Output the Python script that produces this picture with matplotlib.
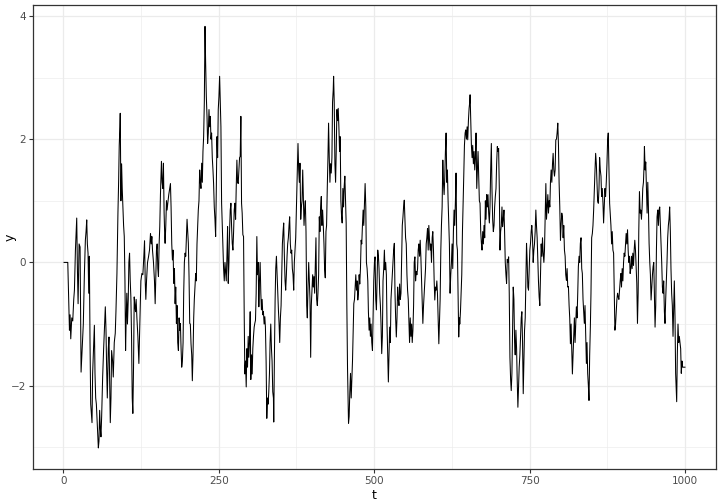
import numpy as np
import matplotlib
matplotlib.use("Agg")
import matplotlib.pyplot as plt
from matplotlib.ticker import FixedLocator

# series, in pieces along t
t_a = [1, 7, 8.6, 9.7, 10.7, 11.8, 13.4, 15, 16.6, 17.7, 19.3, 21.4, 22.5, 23.6, 25.2, 26.8, 28.4, 30,
       32, 33.7, 35.3, 36.4, 37.5, 38.5, 39.6, 40.7, 41.7, 42.8, 43.9, 45, 46, 47, 48.7, 49.8, 50.8,
       51.9, 53, 54, 55, 56.2, 57.2, 58.3, 59.4, 60.4, 61.5, 63.1, 64.7, 66.3, 67.4, 68.5, 69.5, 70.6,
       72.2, 73.3, 74.3, 75.4, 76.5, 77.5, 79.1, 80.2, 81.8, 83.4, 84.5, 86.1, 87.7, 88.8, 89.8, 90.9,
       91.4, 92.5, 93.6, 94.6, 95.7, 96.8, 97.9, 99, 100, 101, 102, 103, 104.3, 105.3, 106.4, 107.5,
       108.5, 109.6, 110.7, 111.7, 112.8, 113.9, 114.9, 116, 117]
y_a = [0, 0, -0.67, -1.1, -0.85, -1.24, -0.9, -0.95, -0.6, -0.45, 0.2, 0.72, -0.1, -0.67, 0.3, 0.25,
       -1.78, -1.43, -1.0, -0.2, 0.36, 0.5, 0.69, 0.3, 0.15, -0.5, 0.1, -1.3, -2.3, -2.45, -2.6, -1.8,
       -1.3, -1.02, -1.8, -2.2, -2.3, -2.53, -2.8, -3.01, -2.9, -2.4, -2.7, -2.83, -2.5, -1.86, -1.4,
       -1.0, -0.72, -1.1, -1.7, -2.2, -1.4, -1.21, -1.9, -2.6, -2.2, -1.43, -1.6, -1.86, -1.3, -1.15,
       -0.8, -0.18, 0.8, 1.3, 1.9, 2.2, 2.42, 1.0, 1.6, 1.2, 0.9, 0.6, 0.42, -0.3, -1.43, -0.9, -0.5,
       -1.0, -0.6, 0.0, 0.15, -0.3, -0.56, -1.2, -2.2, -2.45, -1.7, -0.56, -0.7, -0.8, -0.6]

t_b = [118.2, 119.8, 121.4, 123, 124.6, 126.2, 127.8, 129.4, 130.5, 131.6, 132.6, 133.7, 135.3, 136.9,
       138.5, 140.1, 141.2, 142.3, 143.3, 144.9, 146.5, 147.6, 148.7, 149.7, 150.8, 151.9, 152.9, 154,
       155, 156.1, 157.2, 157.7, 158.8, 159.9, 160.9, 162, 163.1, 163.6, 164.7, 165.8, 166.8, 167.9,
       169.5, 171.1, 172.2, 173.2, 174.3, 175.4, 176.4, 177.5, 178.6, 179.7, 180.7, 181.8, 182.9, 183.9,
       185, 186.1, 187.1, 188.2, 189.3, 190.3, 191.4, 192.5, 193.5, 194.6, 195.7, 196.8, 197.8, 198.9,
       200, 201, 202.1, 203.2, 204.2, 205.3, 206.4, 207.4, 208.5, 209.6, 210.6, 211.7, 212.8, 213.8,
       214.9, 216, 217, 218.1, 219.2, 220.3, 221.3, 222.4, 223.5, 224.5, 225.6, 226.7, 227.8, 228.8,
       229.9, 231, 232, 233.1, 234.2, 235.2, 236.3, 237.4, 238.4, 239.5, 240.6, 241.6, 242.7, 243.8,
       244.9, 246, 247, 248.1, 249.1, 250.2, 251.3]
y_b = [-0.9, -1.2, -1.64, -1.0, -0.3, -0.18, -0.2, 0.1, 0.35, -0.3, -0.6, -0.3, 0.0, 0.09, 0.2, 0.47,
       0.3, 0.42, 0.2, 0.0, -0.3, -0.67, -0.2, 0.2, 0.3, -0.1, -0.23, 0.3, 0.58, 1.1, 1.5, 1.64, 1.3,
       1.2, 1.61, 0.8, 0.4, 0.31, 0.6, 1.0, 0.85, 0.96, 1.1, 1.2, 1.28, 0.9, 0.3, 0.04, 0.2, -0.34,
       -0.1, -0.67, -0.4, -0.99, -0.7, -1.3, -1.43, -0.9, -1.1, -0.99, -1.4, -1.7, -1.6, -1.3, -0.5,
       0.0, 0.15, 0.1, 0.4, 0.7, 0.5, 0.31, -0.23, -0.99, -1.0, -1.32, -1.5, -1.92, -1.5, -0.9, -0.6,
       -0.39, -0.18, -0.3, 0.3, 0.58, 0.85, 1.0, 1.5, 1.3, 1.2, 1.61, 1.3, 1.8, 2.04, 2.6, 3.83, 3.24,
       2.7, 2.37, 1.93, 2.1, 2.48, 2.2, 2.37, 2.0, 2.1, 1.7, 1.5, 1.28, 0.9, 0.7, 0.42, 1.2, 2.04,
       1.7, 2.48, 2.69, 3.02]

t_c = [253.4, 254.5, 255.6, 256.7, 257.7, 258.8, 259.9, 260.9, 262, 263.1, 264.1, 265.2, 266.3, 267.3,
       268.4, 269.5, 270.5, 271.6, 272.7, 273.8, 274.8, 275.9, 277, 278, 279.1, 280.2, 281.2, 282.3,
       283.4, 284.4, 285.5, 286.6, 287.6, 288.7, 289.8, 290.9, 291.9, 293, 294.1, 295.1, 296.2, 297.3,
       298.3, 299.4, 300.5, 301.5, 302.6, 303.7, 304.7, 305.8, 306.9, 307.9, 309, 310.1, 311.2, 312.2,
       313.3, 314.4, 315.4, 316.5, 317.6, 318.6, 319.7, 320.8, 321.8, 322.9, 324, 325, 326.1, 327.2,
       328.3, 329.3, 330.4, 331.5, 332.5, 333.6, 334.7, 335.7, 336.8, 337.9, 338.4, 339.5, 340.6,
       341.6, 342.7, 343.8, 344.8, 345.9, 347, 348, 349.1, 350.2, 351.2, 352.3, 353.4, 354.4, 355.5,
       356.6, 357.6, 358.7, 359.8, 360.8, 361.9, 363, 364, 365.1, 366.2, 367.3, 368.3, 369.4, 370.5,
       371.5, 372.6, 373.7, 374.7, 375.8, 376.9, 377.4, 378.5, 379.6, 380.6]
y_c = [2.2, 0.96, 0.6, 0.2, -0.1, -0.3, 0.0, -0.15, -0.3, 0.1, 0.58, -0.34, 0.0, 0.5, 0.85, 0.96, 0.6,
       0.31, 0.2, 0.5, 0.85, 0.96, 0.7, 1.2, 1.66, 1.3, 1.28, 1.5, 1.7, 1.72, 2.37, 0.96, 0.8, 0.45,
       0.42, -0.88, -1.81, -1.6, -2.02, -1.4, -1.7, -1.2, -1.54, -1.3, -0.8, -1.9, -1.5, -1.81, -1.4,
       -1.2, -1.05, -0.99, -0.94, -0.5, 0.42, -0.2, 0.0, -0.72, -0.3, 0.0, -0.5, -0.77, -0.6, -0.85,
       -0.8, -1.0, -0.88, -1.05, -1.6, -2.53, -2.2, -2.3, -2.1, -1.8, -1.3, -1.0, -1.4, -1.6, -2.1,
       -2.2, -2.59, -1.5, -0.6, -0.1, 0.1, -0.2, -0.5, -0.77, -1.0, -1.3, -0.9, -0.7, -0.2, 0.3, 0.5,
       0.64, 0.1, -0.3, -0.45, -0.2, 0.1, 0.3, 0.4, 0.6, 0.74, 0.3, 0.15, 0.2, -0.1, -0.2, -0.45, 0.0,
       0.2, 0.4, 0.8, 1.2, 1.66, 1.93, 1.5, 1.3, 1.61]

t_d = [381.8, 382.8, 383.9, 385, 386, 387.1, 388.2, 389.2, 390.3, 391.4, 392.4, 393.5, 394.6, 395.6,
       396.7, 397.8, 398.8, 399.9, 401, 402, 403.1, 404.2, 405.3, 406.3, 407.4, 408.5, 409.5, 410.6,
       411.7, 412.7, 413.8, 414.9, 415.9, 417, 418.1, 419.2, 420.2, 421.3, 422.4, 423.4, 424.5, 425.6,
       426.6, 427.7, 428.8, 429.8, 430.9, 432, 433, 434.1, 434.7, 435.7, 436.8, 437.9, 438.9, 440,
       441.1, 442.1, 443.2, 444.3, 445.3, 446.4, 447.5, 448.5, 449.6, 450.7, 451.7, 452.8, 453.9,
       454.9, 456, 457.1, 458.2, 458.7, 459.7, 460.8, 461.9, 463, 464, 465.1, 466.2, 467.2, 468.3,
       469.4, 470.4, 471.5, 472.6, 473.6, 474.7, 475.8, 476.8, 477.9, 479, 480, 481.1, 482.2, 483.2,
       484.3, 485.4, 486.5, 487.5, 488.6, 489.7, 490.7, 491.8, 492.9, 493.9, 495, 496.1, 497.2, 498.2,
       499.3, 500.4, 501.4, 502.5, 503.6, 504.6, 505.7, 506.8, 507.8, 508.9]
y_d = [0.7, 0.9, 1.0, 1.5, 1.1, 0.6, 0.85, 1.0, 0.5, -0.7, -0.9, -0.4, 0.0, -0.3, -0.6, -1.54, -0.7,
       -0.45, -0.2, -0.4, -0.23, -0.5, 0.0, 0.4, -0.6, -0.7, -0.5, -0.2, 0.74, 0.5, 0.9, 1.07, 0.6,
       0.85, 0.6, 0.3, -0.1, -0.25, 0.5, 0.6, 1.2, 1.7, 2.26, 1.7, 1.3, 1.6, 1.45, 1.7, 2.6, 2.8, 3.02,
       2.6, 1.6, 1.3, 1.8, 2.48, 2.3, 2.5, 2.2, 1.8, 2.04, 1.0, 0.75, 0.64, 1.2, 0.9, 1.23, 1.4, 1.0,
       0.64, -0.7, -1.72, -2.3, -2.61, -2.5, -2.1, -1.8, -2.2, -1.9, -1.6, -1.15, -0.67, -0.6, -0.4,
       -0.2, -0.45, -0.3, -0.61, -0.5, -0.2, -0.35, -0.1, 0.36, 0.3, 0.6, 0.85, 0.6, 0.96, 1.28, 0.9,
       0.0, -0.1, -0.3, -0.8, -1.1, -0.9, -1.2, -1.0, -1.3, -1.43, -0.9, -0.3, 0.0, 0.09, -0.6, -0.77,
       -0.3, 0.2, 0.1, -0.1, -0.5]

t_e = [510, 511, 512.1, 513.2, 514.2, 515.3, 516.4, 517.4, 518.5, 519.6, 520.6, 521.7, 522.8, 523.8,
       524.9, 526, 527, 528.1, 529.2, 530.2, 531.3, 532.4, 533.5, 534.5, 535.6, 536.7, 537.7, 538.8,
       539.9, 540.9, 542, 543.1, 544.1, 545.2, 546.3, 547.3, 548.4, 549.5, 550.5, 551.6, 552.7, 553.7,
       554.8, 555.9, 556.9, 558, 559.1, 560.2, 561.2, 562.3, 563.4, 564.4, 565.5, 566.6, 567.6, 568.7,
       569.8, 570.8, 571.9, 573, 574, 575.1, 576.2, 577.2, 578.3, 579.4, 580.5, 581.5, 582.6, 583.7,
       584.7, 585.8, 586.9, 587.9, 589, 590.1, 591.1, 592.2, 593.3, 594.3, 595.4, 596.5, 597.5, 598.6,
       599.7, 600.8, 601.8, 602.9, 604, 605, 606.1, 607.2, 608.2, 609.3, 610.4, 611.4, 612.5, 613.6,
       614.6, 615.7, 616.8, 617.8, 618.9, 620, 621, 622.1, 623.2, 624.3, 625.3, 626.4, 627.5, 628.5,
       629.6, 630.7, 631.7, 632.8, 633.9, 634.9, 636, 637.1]
y_e = [-0.7, -1.0, -1.48, -1.2, -0.3, -0.1, 0.2, -0.12, 0.0, -0.2, -1.0, -1.48, -1.94, -1.5, -1.05,
       -1.3, -0.6, -0.4, -0.2, 0.0, 0.2, 0.31, -0.5, -0.9, -1.21, -0.9, -0.4, -0.6, -0.7, -0.35, -0.6,
       -0.5, 0.0, 0.6, 0.74, 0.9, 1.01, 0.7, 0.4, 0.3, -0.2, -0.45, -0.6, -1.0, -1.3, -0.9, -1.2, -1.0,
       -1.3, -1.1, -0.7, 0.0, 0.09, -0.3, -0.15, -0.2, -0.1, 0.2, 0.3, 0.1, 0.36, 0.09, -0.3, -0.7,
       -0.99, -0.7, -0.5, -0.3, -0.1, 0.3, 0.4, 0.55, 0.2, 0.6, 0.36, 0.2, 0.3, 0.0, 0.4, 0.5, 0.2,
       -0.3, -0.61, -0.4, -0.45, -0.3, -0.5, -0.9, -1.32, -1.0, -0.6, 0.2, 0.6, 0.9, 1.66, 1.3, 1.1,
       1.39, 1.8, 2.1, 1.3, 1.5, 1.0, 0.6, 0.3, -0.5, -0.2, 0.0, 0.3, -0.1, 0.5, 0.85, 0.6, 1.0, 1.45,
       0.3, 0.2, -0.5, -1.21, -0.9]

t_f = [637.7, 638.8, 639.8, 640.9, 642, 643, 644.1, 645.2, 646.3, 647.3, 648.4, 649.5, 650.5, 651.6,
       652.7, 653.7, 654.3, 655.3, 656.4, 657.5, 658.5, 659.6, 660.7, 661.8, 662.8, 663.9, 665, 666,
       667.1, 668.2, 669.2, 670.3, 671.4, 672.5, 673.5, 674.6, 675.7, 676.7, 677.8, 678.9, 679.9, 681,
       682.1, 683.1, 684.2, 685.3, 686.3, 687.4, 688.5, 689.5, 690.6, 691.7, 692.8, 693.8, 694.9, 696,
       697, 698.1, 699.2, 700.2, 701.3, 702.4, 703.4, 704.5, 705.6, 706.6, 707.7, 708.8, 709.8, 710.9,
       712, 713, 714.1, 715.2, 716.3, 717.3, 718.4, 719.5, 720.5, 721.6, 722.7, 723.7, 724.8, 725.9,
       726.9, 728, 729.1, 730.1, 731.2, 732.3, 733.3, 734.4, 735.5, 736.6, 737.6, 738.7, 739.8, 740.8,
       741.9, 743, 744, 745.1, 746.2, 747.2, 748.3, 749.4, 750.4, 751.5, 752.6, 753.6, 754.7, 755.8,
       756.9, 757.9, 759, 760.1, 761.1, 762.2, 763.3, 764.3, 765.4]
y_f = [-1.0, -0.8, -0.5, -0.2, 0.5, 0.9, 1.4, 1.9, 2.1, 2.15, 2.0, 2.2, 1.99, 2.3, 2.5, 2.6, 2.72, 2.3,
       1.9, 1.7, 1.9, 1.6, 1.8, 1.5, 1.7, 2.1, 1.2, 1.5, 1.8, 1.4, 1.0, 0.96, 0.5, 0.31, 0.2, 0.5, 0.3,
       0.6, 0.4, 1.0, 0.7, 1.1, 0.9, 1.1, 0.8, 0.64, 0.9, 1.5, 1.93, 1.2, 0.7, 0.5, 0.6, 0.9, 1.07,
       1.2, 1.6, 1.88, 1.8, 1.85, 1.2, 0.2, 0.5, 0.6, 0.9, 0.58, 0.7, 0.85, 0.5, 0.0, -0.2, -0.34, 0.05,
       0.0, 0.09, -0.5, -1.54, -1.9, -2.08, -1.8, -1.0, -0.4, -0.6, -1.3, -1.5, -1.1, -1.4, -1.9, -2.35,
       -2.0, -1.7, -1.5, -1.2, -0.9, -0.8, -1.3, -2.13, -1.6, -1.1, -0.9, -0.3, 0.31, 0.0, -0.4, -0.45,
       -0.1, 0.2, 0.31, 0.5, 0.6, 0.4, 0.0, 0.2, 0.3, 0.5, 0.85, 0.6, 0.4, 0.0, -0.3, -0.56]

t_g = [766.5, 767.6, 768.7, 769.8, 770.8, 771.9, 773, 774, 775.1, 776.2, 777.2, 778.3, 779.4, 780.4,
       781.5, 782.6, 783.6, 784.7, 785.8, 786.9, 787.9, 789, 790.1, 791.1, 792.2, 793.3, 794.3, 795.4,
       796.5, 797.5, 798.6, 799.7, 800.7, 801.8, 802.9, 804, 805, 806.1, 807.2, 808.2, 809.3, 810.4,
       811.4, 812.5, 813.6, 814.6, 815.7, 816.8, 817.8, 818.9, 820, 821, 822.1, 823.2, 824.3, 825.3,
       826.4, 827.5, 828.5, 829.6, 830.7, 831.7, 832.8, 833.9, 834.9, 836, 837.1, 838.1, 839.2, 840.3,
       841.4, 842.4, 843.5, 844.6, 845.6, 846.7, 847.8, 848.8, 849.9, 851, 852, 853.1, 854.2, 855.3,
       856.3, 857.4, 858.5, 859.5, 860.6, 861.7, 862.7, 863.8, 864.9, 865.9, 867, 868.1, 869.1, 870.2,
       871.3, 872.3, 873.4, 874.5, 875.6, 876.6, 877.7, 878.8, 879.8, 880.9, 882, 883, 884.1, 885.2,
       886.2, 887.3, 888.4, 889.4, 890.5, 891.6, 892.6, 893.7]
y_g = [-0.7, -0.2, 0.3, 0.1, 0.4, 0.15, 0.0, 0.2, 0.7, 1.28, 0.7, 0.9, 1.1, 0.8, 1.0, 0.9, 1.3, 1.5,
       1.3, 1.6, 1.77, 1.5, 1.4, 1.5, 1.99, 2.0, 2.1, 2.26, 1.9, 1.3, 0.9, 0.36, 0.6, 0.8, 0.74, 0.4,
       0.6, 0.2, 0.1, -0.2, -0.29, -0.1, -0.4, -0.39, -0.7, -0.9, -1.32, -1.0, -1.4, -1.81, -1.5, -1.2,
       -0.9, -1.3, -1.0, -0.72, -0.9, -0.5, -0.07, 0.1, 0.0, 0.31, 0.4, -0.1, -0.18, -0.6, -0.8, -0.99,
       -0.7, -1.2, -1.64, -1.3, -1.8, -2.0, -2.24, -1.5, -1.05, -0.5, 0.4, 0.47, 0.6, 0.85, 1.2, 1.5,
       1.77, 1.6, 1.3, 1.0, 0.96, 1.2, 1.7, 1.5, 1.4, 1.07, 1.2, 0.96, 0.64, 0.9, 1.2, 1.07, 1.3, 1.6,
       1.99, 2.1, 1.5, 0.96, 0.8, 0.6, 0.3, 0.5, 0.2, 0.15, -0.4, -1.1, -1.0, -0.8, -0.6, -0.5, -0.56,
       -0.6]

t_h = [894.7, 895.8, 896.9, 897.9, 899, 900.1, 901.2, 902.2, 903.3, 904.4, 905.4, 906.5, 907.6, 908.6,
       909.7, 910.8, 911.8, 912.9, 914, 915, 916.1, 917.2, 918.3, 919.3, 920.4, 921.5, 922.5, 923.6,
       924.7, 925.7, 926.8, 927.9, 928.9, 930, 931.1, 932.1, 933.2, 934.3, 934.8, 935.9, 936.9, 938,
       939.1, 940.2, 941.2, 942.3, 943.4, 944.4, 945.5, 946.6, 947.7, 948.7, 949.8, 950.9, 951.9, 953,
       954.1, 955.1, 956.2, 957.3, 958.3, 959.4, 960.5, 961.5, 962.6, 963.7, 964.7, 965.8, 966.9,
       967.9, 969, 970.1, 971.1, 972.2, 973.3, 974.3, 975.4, 976.5, 977.5, 978.6, 979.7, 980.8, 981.8,
       982.9, 984, 985, 986.1, 986.7, 987.7, 988.8, 989.9, 990.9, 992, 993.1, 994.1, 995.2, 996.3, 1000]
y_h = [-0.45, -0.3, -0.18, -0.4, -0.1, -0.3, 0.0, 0.15, 0.1, 0.3, 0.47, 0.3, 0.53, 0.2, 0.0, 0.1,
       -0.18, -0.1, 0.1, -0.1, 0.15, -0.05, 0.2, 0.36, 0.2, -0.1, -0.34, -0.99, -0.5, 0.5, 1.15, 0.8,
       0.85, 0.7, 0.9, 1.2, 1.3, 1.6, 1.88, 1.5, 1.63, 1.2, 0.8, 1.3, 0.9, 0.31, 0.0, -0.2, -0.61,
       -0.4, -0.2, -0.07, 0.0, -0.6, -1.05, -0.7, 0.2, 0.74, 0.85, 0.6, 0.85, 0.9, 0.6, 0.3, 0.0, -0.4,
       -0.5, -0.3, -0.8, -0.99, -0.6, -0.3, 0.0, 0.4, 0.6, 0.7, 0.9, 0.5, -0.1, -0.5, -0.7, -1.2, -0.8,
       -0.3, -0.9, -1.8, -2.1, -2.26, -1.5, -1.0, -1.3, -1.2, -1.3, -1.4, -1.8, -1.6, -1.7, -1.7]

t = np.array(t_a + t_b + t_c + t_d + t_e + t_f + t_g + t_h)
y = np.array(y_a + y_b + y_c + y_d + y_e + y_f + y_g + y_h)

fig = plt.figure(figsize=(7.2, 5.04), dpi=100)
ax = fig.add_axes([33 / 720, 1 - 469 / 504, (716 - 33) / 720, (469 - 5.3) / 504])

ax.plot(t, y, color="black", linewidth=0.75, zorder=3)

ax.set_xticks([0, 250, 500, 750, 1000])
ax.set_yticks([-2, 0, 2, 4])
ax.xaxis.set_minor_locator(FixedLocator([125, 375, 625, 875]))
ax.yaxis.set_minor_locator(FixedLocator([-3, -1, 1, 3]))
ax.grid(True, which="major", color="#EBEBEB", linewidth=0.9, zorder=0)
ax.grid(True, which="minor", color="#EBEBEB", linewidth=0.45, zorder=0)
ax.set_axisbelow(True)

for s in ax.spines.values():
    s.set_color("#333333")
    s.set_linewidth(0.9)

ax.tick_params(which="major", length=3, width=0.8, color="#333333",
               labelsize=7.5, labelcolor="#4D4D4D", pad=2)
ax.tick_params(which="minor", length=0)

ax.set_xlabel("t", fontsize=9)
ax.set_ylabel("y", fontsize=9)
ax.xaxis.set_label_coords(0.5, -0.043)
ax.yaxis.set_label_coords(-0.024, 0.5)

plt.savefig("out.png", dpi=100)
